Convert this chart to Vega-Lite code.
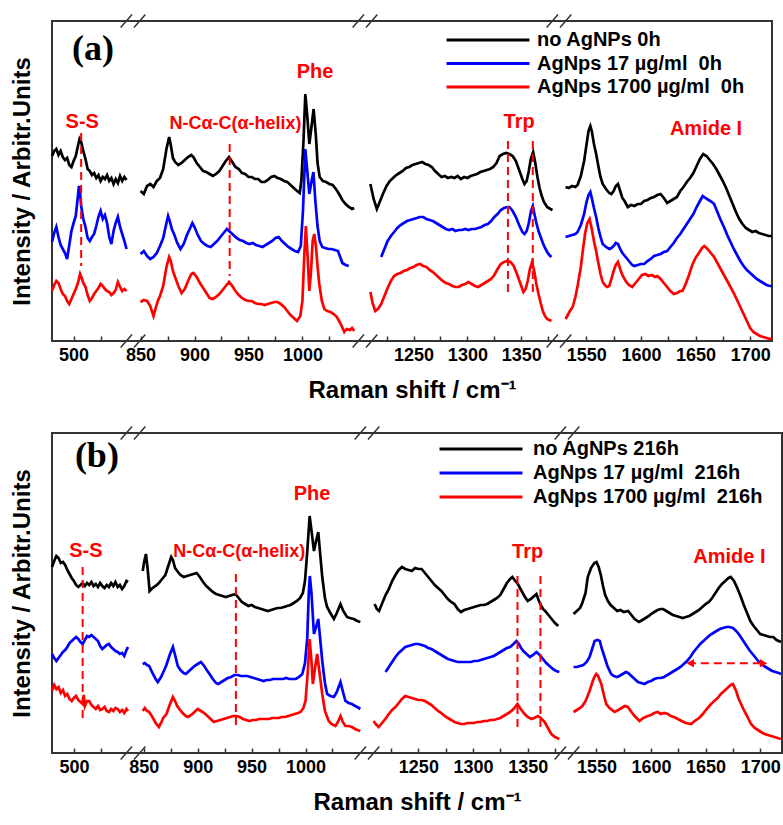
{
"$schema":"https://vega.github.io/schema/vega-lite/v6.json",
"background":"white",
"padding":{"left":9,"top":10,"right":0,"bottom":0},
"bounds":"flush",
"spacing":92,
"config":{"view":{"stroke":"#333333","strokeWidth":2},"font":"Liberation Sans"},
"resolve":{"scale":{"color":"independent","shape":"independent"},"legend":{"color":"independent"}},
"datasets":{
"a":[
{"c":"k","s":1,"x":480,"y":185},{"c":"k","s":1,"x":482,"y":190},{"c":"k","s":1,"x":484,"y":192},{"c":"k","s":1,"x":486,"y":186},{"c":"k","s":1,"x":488,"y":190},{"c":"k","s":1,"x":490,"y":184},{"c":"k","s":1,"x":492,"y":181},{"c":"k","s":1,"x":494,"y":183},{"c":"k","s":1,"x":496,"y":176},{"c":"k","s":1,"x":498,"y":174},{"c":"k","s":1,"x":500,"y":180},{"c":"k","s":1,"x":502,"y":185},{"c":"k","s":1,"x":504,"y":195},{"c":"k","s":1,"x":505.5,"y":202},{"c":"k","s":1,"x":507,"y":199},{"c":"k","s":1,"x":509,"y":190},{"c":"k","s":1,"x":511,"y":182},{"c":"k","s":1,"x":513,"y":172},{"c":"k","s":1,"x":515,"y":170},{"c":"k","s":1,"x":517,"y":166},{"c":"k","s":1,"x":519,"y":168},{"c":"k","s":1,"x":521,"y":163},{"c":"k","s":1,"x":523,"y":166},{"c":"k","s":1,"x":525,"y":160},{"c":"k","s":1,"x":527,"y":164},{"c":"k","s":1,"x":529,"y":162},{"c":"k","s":1,"x":531,"y":166},{"c":"k","s":1,"x":533,"y":160},{"c":"k","s":1,"x":535,"y":163},{"c":"k","s":1,"x":537,"y":157},{"c":"k","s":1,"x":539,"y":162},{"c":"k","s":1,"x":541,"y":158},{"c":"k","s":1,"x":543,"y":165},{"c":"k","s":1,"x":545,"y":160},{"c":"k","s":1,"x":547,"y":164},{"c":"k","s":1,"x":549,"y":161},
{"c":"k","s":2,"x":850,"y":150},{"c":"k","s":2,"x":853,"y":147},{"c":"k","s":2,"x":856,"y":155},{"c":"k","s":2,"x":859,"y":157},{"c":"k","s":2,"x":862,"y":154},{"c":"k","s":2,"x":865,"y":160},{"c":"k","s":2,"x":868,"y":163},{"c":"k","s":2,"x":871,"y":172},{"c":"k","s":2,"x":874,"y":192},{"c":"k","s":2,"x":876.5,"y":204},{"c":"k","s":2,"x":878,"y":196},{"c":"k","s":2,"x":880,"y":183},{"c":"k","s":2,"x":882,"y":179},{"c":"k","s":2,"x":885,"y":176},{"c":"k","s":2,"x":888,"y":178},{"c":"k","s":2,"x":891,"y":181},{"c":"k","s":2,"x":894,"y":184},{"c":"k","s":2,"x":897,"y":186},{"c":"k","s":2,"x":899,"y":184},{"c":"k","s":2,"x":902,"y":178},{"c":"k","s":2,"x":905,"y":174},{"c":"k","s":2,"x":908,"y":170},{"c":"k","s":2,"x":911,"y":169},{"c":"k","s":2,"x":914,"y":167},{"c":"k","s":2,"x":917,"y":165},{"c":"k","s":2,"x":920,"y":167},{"c":"k","s":2,"x":923,"y":170},{"c":"k","s":2,"x":926,"y":175},{"c":"k","s":2,"x":929,"y":180},{"c":"k","s":2,"x":932,"y":184},{"c":"k","s":2,"x":935,"y":179},{"c":"k","s":2,"x":938,"y":174},{"c":"k","s":2,"x":941,"y":172},{"c":"k","s":2,"x":944,"y":168},{"c":"k","s":2,"x":947,"y":167},{"c":"k","s":2,"x":950,"y":164},{"c":"k","s":2,"x":953,"y":164},{"c":"k","s":2,"x":956,"y":162},{"c":"k","s":2,"x":959,"y":162},{"c":"k","s":2,"x":962,"y":159},{"c":"k","s":2,"x":965,"y":159},{"c":"k","s":2,"x":968,"y":161},{"c":"k","s":2,"x":971,"y":164},{"c":"k","s":2,"x":974,"y":165},{"c":"k","s":2,"x":977,"y":163},{"c":"k","s":2,"x":980,"y":162},{"c":"k","s":2,"x":983,"y":160},{"c":"k","s":2,"x":986,"y":159},{"c":"k","s":2,"x":989,"y":156},{"c":"k","s":2,"x":992,"y":153},{"c":"k","s":2,"x":995,"y":150},{"c":"k","s":2,"x":997.5,"y":148},{"c":"k","s":2,"x":999,"y":160},{"c":"k","s":2,"x":1001,"y":200},{"c":"k","s":2,"x":1002.7,"y":247},{"c":"k","s":2,"x":1004.5,"y":225},{"c":"k","s":2,"x":1006.4,"y":197},{"c":"k","s":2,"x":1008.5,"y":215},{"c":"k","s":2,"x":1010.4,"y":232},{"c":"k","s":2,"x":1012.5,"y":205},{"c":"k","s":2,"x":1014,"y":178},{"c":"k","s":2,"x":1016,"y":164},{"c":"k","s":2,"x":1019,"y":160},{"c":"k","s":2,"x":1022,"y":159},{"c":"k","s":2,"x":1025,"y":157},{"c":"k","s":2,"x":1028,"y":156},{"c":"k","s":2,"x":1031,"y":152},{"c":"k","s":2,"x":1034,"y":147},{"c":"k","s":2,"x":1037,"y":141},{"c":"k","s":2,"x":1040,"y":137},{"c":"k","s":2,"x":1043,"y":134},{"c":"k","s":2,"x":1046,"y":132},{"c":"k","s":2,"x":1048,"y":133},
{"c":"k","s":3,"x":1210,"y":157},{"c":"k","s":3,"x":1213,"y":142},{"c":"k","s":3,"x":1216,"y":132},{"c":"k","s":3,"x":1219,"y":140},{"c":"k","s":3,"x":1222,"y":148},{"c":"k","s":3,"x":1225,"y":155},{"c":"k","s":3,"x":1228,"y":160},{"c":"k","s":3,"x":1231,"y":163},{"c":"k","s":3,"x":1234,"y":166},{"c":"k","s":3,"x":1237,"y":168},{"c":"k","s":3,"x":1240,"y":170},{"c":"k","s":3,"x":1243,"y":173},{"c":"k","s":3,"x":1246,"y":174},{"c":"k","s":3,"x":1249,"y":176},{"c":"k","s":3,"x":1252,"y":177},{"c":"k","s":3,"x":1255,"y":178},{"c":"k","s":3,"x":1258,"y":179},{"c":"k","s":3,"x":1261,"y":177},{"c":"k","s":3,"x":1264,"y":176},{"c":"k","s":3,"x":1267,"y":174},{"c":"k","s":3,"x":1270,"y":170},{"c":"k","s":3,"x":1273,"y":167},{"c":"k","s":3,"x":1276,"y":164},{"c":"k","s":3,"x":1279,"y":165},{"c":"k","s":3,"x":1282,"y":163},{"c":"k","s":3,"x":1285,"y":164},{"c":"k","s":3,"x":1288,"y":163},{"c":"k","s":3,"x":1291,"y":165},{"c":"k","s":3,"x":1294,"y":162},{"c":"k","s":3,"x":1297,"y":164},{"c":"k","s":3,"x":1300,"y":163},{"c":"k","s":3,"x":1303,"y":165},{"c":"k","s":3,"x":1306,"y":166},{"c":"k","s":3,"x":1309,"y":167},{"c":"k","s":3,"x":1312,"y":169},{"c":"k","s":3,"x":1315,"y":170},{"c":"k","s":3,"x":1318,"y":171},{"c":"k","s":3,"x":1321,"y":172},{"c":"k","s":3,"x":1324,"y":174},{"c":"k","s":3,"x":1327,"y":178},{"c":"k","s":3,"x":1330,"y":185},{"c":"k","s":3,"x":1333,"y":187},{"c":"k","s":3,"x":1336,"y":188},{"c":"k","s":3,"x":1339,"y":187},{"c":"k","s":3,"x":1342,"y":185},{"c":"k","s":3,"x":1345,"y":180},{"c":"k","s":3,"x":1348,"y":171},{"c":"k","s":3,"x":1351,"y":162},{"c":"k","s":3,"x":1353,"y":157},{"c":"k","s":3,"x":1355,"y":160},{"c":"k","s":3,"x":1357,"y":170},{"c":"k","s":3,"x":1359,"y":183},{"c":"k","s":3,"x":1361,"y":189},{"c":"k","s":3,"x":1363,"y":178},{"c":"k","s":3,"x":1365,"y":164},{"c":"k","s":3,"x":1367,"y":153},{"c":"k","s":3,"x":1369,"y":145},{"c":"k","s":3,"x":1371,"y":139},{"c":"k","s":3,"x":1374,"y":134},{"c":"k","s":3,"x":1377,"y":132},{"c":"k","s":3,"x":1379,"y":131},
{"c":"k","s":4,"x":1531,"y":154},{"c":"k","s":4,"x":1534,"y":153},{"c":"k","s":4,"x":1537,"y":155},{"c":"k","s":4,"x":1540,"y":154},{"c":"k","s":4,"x":1542,"y":156},{"c":"k","s":4,"x":1545,"y":165},{"c":"k","s":4,"x":1548,"y":180},{"c":"k","s":4,"x":1550,"y":195},{"c":"k","s":4,"x":1552,"y":210},{"c":"k","s":4,"x":1553.7,"y":215},{"c":"k","s":4,"x":1555,"y":210},{"c":"k","s":4,"x":1557,"y":197},{"c":"k","s":4,"x":1559,"y":187},{"c":"k","s":4,"x":1561,"y":175},{"c":"k","s":4,"x":1563,"y":164},{"c":"k","s":4,"x":1565,"y":157},{"c":"k","s":4,"x":1568,"y":152},{"c":"k","s":4,"x":1571,"y":148},{"c":"k","s":4,"x":1573,"y":147},{"c":"k","s":4,"x":1575,"y":150},{"c":"k","s":4,"x":1577,"y":155},{"c":"k","s":4,"x":1579,"y":157},{"c":"k","s":4,"x":1581,"y":150},{"c":"k","s":4,"x":1583,"y":143},{"c":"k","s":4,"x":1585,"y":140},{"c":"k","s":4,"x":1588,"y":134},{"c":"k","s":4,"x":1591,"y":136},{"c":"k","s":4,"x":1594,"y":135},{"c":"k","s":4,"x":1597,"y":137},{"c":"k","s":4,"x":1600,"y":137},{"c":"k","s":4,"x":1603,"y":140},{"c":"k","s":4,"x":1606,"y":141},{"c":"k","s":4,"x":1609,"y":143},{"c":"k","s":4,"x":1612,"y":144},{"c":"k","s":4,"x":1615,"y":146},{"c":"k","s":4,"x":1618,"y":147},{"c":"k","s":4,"x":1621,"y":143},{"c":"k","s":4,"x":1624,"y":138},{"c":"k","s":4,"x":1627,"y":140},{"c":"k","s":4,"x":1630,"y":142},{"c":"k","s":4,"x":1633,"y":144},{"c":"k","s":4,"x":1636,"y":150},{"c":"k","s":4,"x":1639,"y":154},{"c":"k","s":4,"x":1642,"y":159},{"c":"k","s":4,"x":1645,"y":163},{"c":"k","s":4,"x":1648,"y":168},{"c":"k","s":4,"x":1651,"y":175},{"c":"k","s":4,"x":1654,"y":182},{"c":"k","s":4,"x":1657,"y":187},{"c":"k","s":4,"x":1660,"y":185},{"c":"k","s":4,"x":1663,"y":181},{"c":"k","s":4,"x":1666,"y":177},{"c":"k","s":4,"x":1669,"y":172},{"c":"k","s":4,"x":1672,"y":166},{"c":"k","s":4,"x":1675,"y":160},{"c":"k","s":4,"x":1678,"y":153},{"c":"k","s":4,"x":1681,"y":145},{"c":"k","s":4,"x":1684,"y":137},{"c":"k","s":4,"x":1687,"y":129},{"c":"k","s":4,"x":1690,"y":122},{"c":"k","s":4,"x":1693,"y":117},{"c":"k","s":4,"x":1696,"y":113},{"c":"k","s":4,"x":1699,"y":111},{"c":"k","s":4,"x":1702,"y":109},{"c":"k","s":4,"x":1705,"y":110},{"c":"k","s":4,"x":1708,"y":108},{"c":"k","s":4,"x":1711,"y":107},{"c":"k","s":4,"x":1714,"y":106},{"c":"k","s":4,"x":1717,"y":105},{"c":"k","s":4,"x":1720,"y":105},
{"c":"b","s":1,"x":480,"y":99},{"c":"b","s":1,"x":482,"y":108},{"c":"b","s":1,"x":484,"y":114},{"c":"b","s":1,"x":486,"y":104},{"c":"b","s":1,"x":488,"y":96},{"c":"b","s":1,"x":490,"y":92},{"c":"b","s":1,"x":492,"y":88},{"c":"b","s":1,"x":494,"y":82},{"c":"b","s":1,"x":496,"y":96},{"c":"b","s":1,"x":498,"y":110},{"c":"b","s":1,"x":500,"y":118},{"c":"b","s":1,"x":502,"y":125},{"c":"b","s":1,"x":504,"y":145},{"c":"b","s":1,"x":505,"y":155},{"c":"b","s":1,"x":506,"y":148},{"c":"b","s":1,"x":507,"y":135},{"c":"b","s":1,"x":509,"y":122},{"c":"b","s":1,"x":511,"y":114},{"c":"b","s":1,"x":513,"y":103},{"c":"b","s":1,"x":515,"y":100},{"c":"b","s":1,"x":517,"y":104},{"c":"b","s":1,"x":519,"y":107},{"c":"b","s":1,"x":521,"y":115},{"c":"b","s":1,"x":523,"y":124},{"c":"b","s":1,"x":525,"y":130},{"c":"b","s":1,"x":527,"y":122},{"c":"b","s":1,"x":529,"y":126},{"c":"b","s":1,"x":531,"y":118},{"c":"b","s":1,"x":533,"y":104},{"c":"b","s":1,"x":535,"y":97},{"c":"b","s":1,"x":537,"y":110},{"c":"b","s":1,"x":539,"y":118},{"c":"b","s":1,"x":541,"y":124},{"c":"b","s":1,"x":543,"y":114},{"c":"b","s":1,"x":545,"y":107},{"c":"b","s":1,"x":547,"y":100},{"c":"b","s":1,"x":549,"y":92},
{"c":"b","s":2,"x":850,"y":87},{"c":"b","s":2,"x":853,"y":90},{"c":"b","s":2,"x":856,"y":85},{"c":"b","s":2,"x":859,"y":82},{"c":"b","s":2,"x":862,"y":84},{"c":"b","s":2,"x":865,"y":88},{"c":"b","s":2,"x":868,"y":95},{"c":"b","s":2,"x":871,"y":103},{"c":"b","s":2,"x":874,"y":118},{"c":"b","s":2,"x":875.5,"y":125},{"c":"b","s":2,"x":877,"y":120},{"c":"b","s":2,"x":879,"y":112},{"c":"b","s":2,"x":881,"y":107},{"c":"b","s":2,"x":884,"y":98},{"c":"b","s":2,"x":887,"y":92},{"c":"b","s":2,"x":890,"y":97},{"c":"b","s":2,"x":893,"y":106},{"c":"b","s":2,"x":896,"y":113},{"c":"b","s":2,"x":898,"y":118},{"c":"b","s":2,"x":900,"y":114},{"c":"b","s":2,"x":903,"y":106},{"c":"b","s":2,"x":906,"y":100},{"c":"b","s":2,"x":909,"y":97},{"c":"b","s":2,"x":912,"y":95},{"c":"b","s":2,"x":915,"y":94},{"c":"b","s":2,"x":918,"y":97},{"c":"b","s":2,"x":921,"y":100},{"c":"b","s":2,"x":924,"y":104},{"c":"b","s":2,"x":927,"y":108},{"c":"b","s":2,"x":930,"y":112},{"c":"b","s":2,"x":933,"y":109},{"c":"b","s":2,"x":936,"y":106},{"c":"b","s":2,"x":939,"y":103},{"c":"b","s":2,"x":942,"y":101},{"c":"b","s":2,"x":945,"y":100},{"c":"b","s":2,"x":948,"y":98},{"c":"b","s":2,"x":951,"y":97},{"c":"b","s":2,"x":954,"y":98},{"c":"b","s":2,"x":957,"y":96},{"c":"b","s":2,"x":960,"y":95},{"c":"b","s":2,"x":963,"y":94},{"c":"b","s":2,"x":966,"y":96},{"c":"b","s":2,"x":969,"y":98},{"c":"b","s":2,"x":972,"y":100},{"c":"b","s":2,"x":975,"y":103},{"c":"b","s":2,"x":978,"y":104},{"c":"b","s":2,"x":981,"y":100},{"c":"b","s":2,"x":984,"y":97},{"c":"b","s":2,"x":987,"y":94},{"c":"b","s":2,"x":990,"y":92},{"c":"b","s":2,"x":993,"y":90},{"c":"b","s":2,"x":996,"y":89},{"c":"b","s":2,"x":998.5,"y":95},{"c":"b","s":2,"x":1000.5,"y":130},{"c":"b","s":2,"x":1002.7,"y":192},{"c":"b","s":2,"x":1004.5,"y":170},{"c":"b","s":2,"x":1006.4,"y":147},{"c":"b","s":2,"x":1008.5,"y":160},{"c":"b","s":2,"x":1010.2,"y":169},{"c":"b","s":2,"x":1012,"y":140},{"c":"b","s":2,"x":1014,"y":115},{"c":"b","s":2,"x":1016,"y":100},{"c":"b","s":2,"x":1018.4,"y":94},{"c":"b","s":2,"x":1021,"y":93},{"c":"b","s":2,"x":1024,"y":92},{"c":"b","s":2,"x":1027,"y":92},{"c":"b","s":2,"x":1030,"y":91},{"c":"b","s":2,"x":1033,"y":90},{"c":"b","s":2,"x":1035,"y":84},{"c":"b","s":2,"x":1037,"y":78},{"c":"b","s":2,"x":1040,"y":76},{"c":"b","s":2,"x":1043,"y":75},
{"c":"b","s":3,"x":1220,"y":84},{"c":"b","s":3,"x":1223,"y":92},{"c":"b","s":3,"x":1226,"y":100},{"c":"b","s":3,"x":1229,"y":105},{"c":"b","s":3,"x":1232,"y":109},{"c":"b","s":3,"x":1235,"y":113},{"c":"b","s":3,"x":1238,"y":116},{"c":"b","s":3,"x":1241,"y":118},{"c":"b","s":3,"x":1244,"y":120},{"c":"b","s":3,"x":1247,"y":121},{"c":"b","s":3,"x":1250,"y":122},{"c":"b","s":3,"x":1253,"y":123},{"c":"b","s":3,"x":1256,"y":124},{"c":"b","s":3,"x":1259,"y":124},{"c":"b","s":3,"x":1262,"y":122},{"c":"b","s":3,"x":1265,"y":121},{"c":"b","s":3,"x":1268,"y":120},{"c":"b","s":3,"x":1271,"y":118},{"c":"b","s":3,"x":1274,"y":116},{"c":"b","s":3,"x":1277,"y":114},{"c":"b","s":3,"x":1280,"y":112},{"c":"b","s":3,"x":1283,"y":111},{"c":"b","s":3,"x":1286,"y":112},{"c":"b","s":3,"x":1289,"y":110},{"c":"b","s":3,"x":1292,"y":111},{"c":"b","s":3,"x":1295,"y":111},{"c":"b","s":3,"x":1298,"y":112},{"c":"b","s":3,"x":1301,"y":111},{"c":"b","s":3,"x":1304,"y":112},{"c":"b","s":3,"x":1307,"y":112},{"c":"b","s":3,"x":1310,"y":113},{"c":"b","s":3,"x":1313,"y":114},{"c":"b","s":3,"x":1316,"y":116},{"c":"b","s":3,"x":1319,"y":117},{"c":"b","s":3,"x":1322,"y":120},{"c":"b","s":3,"x":1325,"y":124},{"c":"b","s":3,"x":1328,"y":127},{"c":"b","s":3,"x":1331,"y":131},{"c":"b","s":3,"x":1334,"y":133},{"c":"b","s":3,"x":1337,"y":134},{"c":"b","s":3,"x":1339,"y":134},{"c":"b","s":3,"x":1342,"y":130},{"c":"b","s":3,"x":1345,"y":124},{"c":"b","s":3,"x":1348,"y":116},{"c":"b","s":3,"x":1351,"y":109},{"c":"b","s":3,"x":1353,"y":107},{"c":"b","s":3,"x":1355,"y":110},{"c":"b","s":3,"x":1357,"y":118},{"c":"b","s":3,"x":1359,"y":130},{"c":"b","s":3,"x":1360.7,"y":135},{"c":"b","s":3,"x":1362,"y":128},{"c":"b","s":3,"x":1364,"y":118},{"c":"b","s":3,"x":1366,"y":110},{"c":"b","s":3,"x":1368,"y":104},{"c":"b","s":3,"x":1370,"y":98},{"c":"b","s":3,"x":1372,"y":93},{"c":"b","s":3,"x":1374,"y":89},{"c":"b","s":3,"x":1376,"y":86},{"c":"b","s":3,"x":1378,"y":84},
{"c":"b","s":4,"x":1531,"y":104},{"c":"b","s":4,"x":1534,"y":105},{"c":"b","s":4,"x":1537,"y":106},{"c":"b","s":4,"x":1540,"y":107},{"c":"b","s":4,"x":1542,"y":109},{"c":"b","s":4,"x":1545,"y":116},{"c":"b","s":4,"x":1548,"y":127},{"c":"b","s":4,"x":1550,"y":138},{"c":"b","s":4,"x":1552,"y":146},{"c":"b","s":4,"x":1553.7,"y":149},{"c":"b","s":4,"x":1555,"y":143},{"c":"b","s":4,"x":1557,"y":133},{"c":"b","s":4,"x":1559,"y":124},{"c":"b","s":4,"x":1561,"y":113},{"c":"b","s":4,"x":1563,"y":104},{"c":"b","s":4,"x":1565,"y":97},{"c":"b","s":4,"x":1568,"y":94},{"c":"b","s":4,"x":1571,"y":92},{"c":"b","s":4,"x":1573,"y":93},{"c":"b","s":4,"x":1575,"y":95},{"c":"b","s":4,"x":1577,"y":98},{"c":"b","s":4,"x":1579,"y":97},{"c":"b","s":4,"x":1581,"y":92},{"c":"b","s":4,"x":1583,"y":88},{"c":"b","s":4,"x":1586,"y":84},{"c":"b","s":4,"x":1589,"y":80},{"c":"b","s":4,"x":1592,"y":76},{"c":"b","s":4,"x":1594,"y":75},{"c":"b","s":4,"x":1597,"y":76},{"c":"b","s":4,"x":1600,"y":77},{"c":"b","s":4,"x":1603,"y":77},{"c":"b","s":4,"x":1606,"y":80},{"c":"b","s":4,"x":1609,"y":82},{"c":"b","s":4,"x":1612,"y":85},{"c":"b","s":4,"x":1615,"y":86},{"c":"b","s":4,"x":1618,"y":87},{"c":"b","s":4,"x":1621,"y":89},{"c":"b","s":4,"x":1624,"y":90},{"c":"b","s":4,"x":1627,"y":94},{"c":"b","s":4,"x":1630,"y":98},{"c":"b","s":4,"x":1633,"y":103},{"c":"b","s":4,"x":1636,"y":107},{"c":"b","s":4,"x":1639,"y":112},{"c":"b","s":4,"x":1642,"y":117},{"c":"b","s":4,"x":1645,"y":122},{"c":"b","s":4,"x":1648,"y":127},{"c":"b","s":4,"x":1651,"y":134},{"c":"b","s":4,"x":1654,"y":140},{"c":"b","s":4,"x":1656.6,"y":145},{"c":"b","s":4,"x":1659,"y":143},{"c":"b","s":4,"x":1662,"y":141},{"c":"b","s":4,"x":1665,"y":139},{"c":"b","s":4,"x":1667,"y":137},{"c":"b","s":4,"x":1670,"y":129},{"c":"b","s":4,"x":1673,"y":121},{"c":"b","s":4,"x":1676,"y":114},{"c":"b","s":4,"x":1679,"y":106},{"c":"b","s":4,"x":1682,"y":99},{"c":"b","s":4,"x":1685,"y":92},{"c":"b","s":4,"x":1688,"y":86},{"c":"b","s":4,"x":1691,"y":80},{"c":"b","s":4,"x":1694,"y":75},{"c":"b","s":4,"x":1697,"y":71},{"c":"b","s":4,"x":1700,"y":68},{"c":"b","s":4,"x":1703,"y":65},{"c":"b","s":4,"x":1706,"y":62},{"c":"b","s":4,"x":1709,"y":60},{"c":"b","s":4,"x":1712,"y":58},{"c":"b","s":4,"x":1715,"y":56},{"c":"b","s":4,"x":1718,"y":55},{"c":"b","s":4,"x":1720,"y":55},
{"c":"r","s":1,"x":480,"y":50},{"c":"r","s":1,"x":482,"y":56},{"c":"r","s":1,"x":484,"y":60},{"c":"r","s":1,"x":486,"y":58},{"c":"r","s":1,"x":488,"y":52},{"c":"r","s":1,"x":490,"y":47},{"c":"r","s":1,"x":492,"y":45},{"c":"r","s":1,"x":494,"y":40},{"c":"r","s":1,"x":496,"y":37},{"c":"r","s":1,"x":498,"y":42},{"c":"r","s":1,"x":500,"y":47},{"c":"r","s":1,"x":502,"y":52},{"c":"r","s":1,"x":504,"y":58},{"c":"r","s":1,"x":506,"y":67},{"c":"r","s":1,"x":507.5,"y":63},{"c":"r","s":1,"x":509,"y":58},{"c":"r","s":1,"x":511,"y":54},{"c":"r","s":1,"x":513,"y":46},{"c":"r","s":1,"x":515,"y":40},{"c":"r","s":1,"x":517,"y":43},{"c":"r","s":1,"x":519,"y":47},{"c":"r","s":1,"x":521,"y":50},{"c":"r","s":1,"x":523,"y":53},{"c":"r","s":1,"x":525,"y":57},{"c":"r","s":1,"x":527,"y":55},{"c":"r","s":1,"x":529,"y":52},{"c":"r","s":1,"x":531,"y":50},{"c":"r","s":1,"x":533,"y":49},{"c":"r","s":1,"x":535,"y":46},{"c":"r","s":1,"x":537,"y":48},{"c":"r","s":1,"x":539,"y":51},{"c":"r","s":1,"x":541,"y":59},{"c":"r","s":1,"x":543,"y":54},{"c":"r","s":1,"x":545,"y":50},{"c":"r","s":1,"x":547,"y":52},{"c":"r","s":1,"x":549,"y":50},
{"c":"r","s":2,"x":850,"y":39},{"c":"r","s":2,"x":853,"y":41},{"c":"r","s":2,"x":856,"y":40},{"c":"r","s":2,"x":859,"y":35},{"c":"r","s":2,"x":862,"y":25},{"c":"r","s":2,"x":864,"y":33},{"c":"r","s":2,"x":866,"y":40},{"c":"r","s":2,"x":868,"y":45},{"c":"r","s":2,"x":871,"y":55},{"c":"r","s":2,"x":874,"y":74},{"c":"r","s":2,"x":876.5,"y":84},{"c":"r","s":2,"x":878,"y":80},{"c":"r","s":2,"x":880,"y":70},{"c":"r","s":2,"x":882,"y":64},{"c":"r","s":2,"x":885,"y":55},{"c":"r","s":2,"x":888,"y":48},{"c":"r","s":2,"x":891,"y":52},{"c":"r","s":2,"x":894,"y":60},{"c":"r","s":2,"x":897,"y":67},{"c":"r","s":2,"x":899,"y":68},{"c":"r","s":2,"x":902,"y":64},{"c":"r","s":2,"x":905,"y":58},{"c":"r","s":2,"x":908,"y":53},{"c":"r","s":2,"x":911,"y":48},{"c":"r","s":2,"x":914,"y":43},{"c":"r","s":2,"x":917,"y":42},{"c":"r","s":2,"x":920,"y":44},{"c":"r","s":2,"x":923,"y":47},{"c":"r","s":2,"x":926,"y":51},{"c":"r","s":2,"x":929,"y":55},{"c":"r","s":2,"x":932,"y":59},{"c":"r","s":2,"x":935,"y":55},{"c":"r","s":2,"x":938,"y":50},{"c":"r","s":2,"x":941,"y":46},{"c":"r","s":2,"x":944,"y":43},{"c":"r","s":2,"x":947,"y":41},{"c":"r","s":2,"x":950,"y":40},{"c":"r","s":2,"x":953,"y":40},{"c":"r","s":2,"x":956,"y":38},{"c":"r","s":2,"x":959,"y":37},{"c":"r","s":2,"x":962,"y":37},{"c":"r","s":2,"x":965,"y":36},{"c":"r","s":2,"x":968,"y":37},{"c":"r","s":2,"x":971,"y":38},{"c":"r","s":2,"x":974,"y":39},{"c":"r","s":2,"x":977,"y":39},{"c":"r","s":2,"x":980,"y":37},{"c":"r","s":2,"x":983,"y":34},{"c":"r","s":2,"x":986,"y":30},{"c":"r","s":2,"x":989,"y":26},{"c":"r","s":2,"x":992,"y":23},{"c":"r","s":2,"x":995,"y":20},{"c":"r","s":2,"x":998,"y":25},{"c":"r","s":2,"x":1000,"y":40},{"c":"r","s":2,"x":1001.7,"y":85},{"c":"r","s":2,"x":1003.2,"y":115},{"c":"r","s":2,"x":1004.8,"y":85},{"c":"r","s":2,"x":1006.4,"y":50},{"c":"r","s":2,"x":1008,"y":70},{"c":"r","s":2,"x":1009.5,"y":100},{"c":"r","s":2,"x":1011,"y":107},{"c":"r","s":2,"x":1012.5,"y":95},{"c":"r","s":2,"x":1014,"y":75},{"c":"r","s":2,"x":1015.6,"y":57},{"c":"r","s":2,"x":1018,"y":40},{"c":"r","s":2,"x":1020.3,"y":32},{"c":"r","s":2,"x":1023,"y":30},{"c":"r","s":2,"x":1026,"y":29},{"c":"r","s":2,"x":1029,"y":27},{"c":"r","s":2,"x":1032,"y":24},{"c":"r","s":2,"x":1034,"y":20},{"c":"r","s":2,"x":1036,"y":16},{"c":"r","s":2,"x":1038.8,"y":9},{"c":"r","s":2,"x":1041,"y":12},{"c":"r","s":2,"x":1044,"y":11},{"c":"r","s":2,"x":1046,"y":13},{"c":"r","s":2,"x":1048,"y":10},
{"c":"r","s":3,"x":1210,"y":49},{"c":"r","s":3,"x":1212,"y":38},{"c":"r","s":3,"x":1214.5,"y":30},{"c":"r","s":3,"x":1217,"y":32},{"c":"r","s":3,"x":1220,"y":37},{"c":"r","s":3,"x":1223,"y":45},{"c":"r","s":3,"x":1226,"y":53},{"c":"r","s":3,"x":1229,"y":60},{"c":"r","s":3,"x":1232,"y":65},{"c":"r","s":3,"x":1235,"y":67},{"c":"r","s":3,"x":1238,"y":68},{"c":"r","s":3,"x":1241,"y":70},{"c":"r","s":3,"x":1244,"y":71},{"c":"r","s":3,"x":1247,"y":73},{"c":"r","s":3,"x":1250,"y":74},{"c":"r","s":3,"x":1253,"y":76},{"c":"r","s":3,"x":1256,"y":77},{"c":"r","s":3,"x":1259,"y":75},{"c":"r","s":3,"x":1262,"y":74},{"c":"r","s":3,"x":1265,"y":71},{"c":"r","s":3,"x":1268,"y":69},{"c":"r","s":3,"x":1271,"y":66},{"c":"r","s":3,"x":1274,"y":63},{"c":"r","s":3,"x":1277,"y":60},{"c":"r","s":3,"x":1280,"y":58},{"c":"r","s":3,"x":1283,"y":57},{"c":"r","s":3,"x":1286,"y":55},{"c":"r","s":3,"x":1289,"y":54},{"c":"r","s":3,"x":1292,"y":54},{"c":"r","s":3,"x":1295,"y":56},{"c":"r","s":3,"x":1298,"y":57},{"c":"r","s":3,"x":1301,"y":59},{"c":"r","s":3,"x":1304,"y":57},{"c":"r","s":3,"x":1307,"y":55},{"c":"r","s":3,"x":1310,"y":54},{"c":"r","s":3,"x":1313,"y":56},{"c":"r","s":3,"x":1316,"y":58},{"c":"r","s":3,"x":1319,"y":60},{"c":"r","s":3,"x":1322,"y":62},{"c":"r","s":3,"x":1325,"y":66},{"c":"r","s":3,"x":1328,"y":72},{"c":"r","s":3,"x":1331,"y":77},{"c":"r","s":3,"x":1334,"y":79},{"c":"r","s":3,"x":1337,"y":80},{"c":"r","s":3,"x":1340,"y":79},{"c":"r","s":3,"x":1343,"y":75},{"c":"r","s":3,"x":1346,"y":67},{"c":"r","s":3,"x":1349,"y":58},{"c":"r","s":3,"x":1352,"y":49},{"c":"r","s":3,"x":1354,"y":52},{"c":"r","s":3,"x":1356,"y":60},{"c":"r","s":3,"x":1358,"y":72},{"c":"r","s":3,"x":1360,"y":79},{"c":"r","s":3,"x":1362,"y":70},{"c":"r","s":3,"x":1364,"y":57},{"c":"r","s":3,"x":1366,"y":47},{"c":"r","s":3,"x":1368,"y":38},{"c":"r","s":3,"x":1370,"y":30},{"c":"r","s":3,"x":1372,"y":25},{"c":"r","s":3,"x":1374,"y":22},{"c":"r","s":3,"x":1376,"y":21},{"c":"r","s":3,"x":1378,"y":20},
{"c":"r","s":4,"x":1531,"y":22},{"c":"r","s":4,"x":1533,"y":26},{"c":"r","s":4,"x":1535,"y":30},{"c":"r","s":4,"x":1537.5,"y":34},{"c":"r","s":4,"x":1540,"y":44},{"c":"r","s":4,"x":1542,"y":55},{"c":"r","s":4,"x":1545,"y":74},{"c":"r","s":4,"x":1547,"y":92},{"c":"r","s":4,"x":1549,"y":108},{"c":"r","s":4,"x":1551,"y":118},{"c":"r","s":4,"x":1553,"y":122},{"c":"r","s":4,"x":1555,"y":112},{"c":"r","s":4,"x":1557,"y":100},{"c":"r","s":4,"x":1559,"y":90},{"c":"r","s":4,"x":1561,"y":78},{"c":"r","s":4,"x":1563,"y":67},{"c":"r","s":4,"x":1565,"y":59},{"c":"r","s":4,"x":1567,"y":56},{"c":"r","s":4,"x":1569,"y":54},{"c":"r","s":4,"x":1571,"y":55},{"c":"r","s":4,"x":1573,"y":62},{"c":"r","s":4,"x":1575,"y":70},{"c":"r","s":4,"x":1577,"y":76},{"c":"r","s":4,"x":1579,"y":79},{"c":"r","s":4,"x":1581,"y":72},{"c":"r","s":4,"x":1583,"y":66},{"c":"r","s":4,"x":1586,"y":60},{"c":"r","s":4,"x":1589,"y":56},{"c":"r","s":4,"x":1592,"y":54},{"c":"r","s":4,"x":1595,"y":58},{"c":"r","s":4,"x":1598,"y":62},{"c":"r","s":4,"x":1601,"y":66},{"c":"r","s":4,"x":1604,"y":67},{"c":"r","s":4,"x":1607,"y":65},{"c":"r","s":4,"x":1610,"y":66},{"c":"r","s":4,"x":1613,"y":64},{"c":"r","s":4,"x":1615,"y":65},{"c":"r","s":4,"x":1618,"y":62},{"c":"r","s":4,"x":1621,"y":58},{"c":"r","s":4,"x":1624,"y":54},{"c":"r","s":4,"x":1627,"y":50},{"c":"r","s":4,"x":1630,"y":47},{"c":"r","s":4,"x":1633,"y":48},{"c":"r","s":4,"x":1636,"y":50},{"c":"r","s":4,"x":1638,"y":50},{"c":"r","s":4,"x":1641,"y":57},{"c":"r","s":4,"x":1644,"y":66},{"c":"r","s":4,"x":1647,"y":76},{"c":"r","s":4,"x":1650,"y":83},{"c":"r","s":4,"x":1653,"y":88},{"c":"r","s":4,"x":1656,"y":93},{"c":"r","s":4,"x":1658,"y":95},{"c":"r","s":4,"x":1661,"y":92},{"c":"r","s":4,"x":1664,"y":88},{"c":"r","s":4,"x":1667,"y":84},{"c":"r","s":4,"x":1670,"y":78},{"c":"r","s":4,"x":1673,"y":72},{"c":"r","s":4,"x":1676,"y":66},{"c":"r","s":4,"x":1679,"y":60},{"c":"r","s":4,"x":1682,"y":54},{"c":"r","s":4,"x":1685,"y":48},{"c":"r","s":4,"x":1688,"y":41},{"c":"r","s":4,"x":1691,"y":34},{"c":"r","s":4,"x":1694,"y":27},{"c":"r","s":4,"x":1697,"y":20},{"c":"r","s":4,"x":1700,"y":13},{"c":"r","s":4,"x":1703,"y":9},{"c":"r","s":4,"x":1706,"y":7},{"c":"r","s":4,"x":1709,"y":5},{"c":"r","s":4,"x":1712,"y":4},{"c":"r","s":4,"x":1715,"y":3},{"c":"r","s":4,"x":1718,"y":2},{"c":"r","s":4,"x":1720,"y":3}
],
"b":[
{"c":"k","s":1,"x":480,"y":186},{"c":"k","s":1,"x":482,"y":192},{"c":"k","s":1,"x":484,"y":197},{"c":"k","s":1,"x":486,"y":195},{"c":"k","s":1,"x":488,"y":190},{"c":"k","s":1,"x":490,"y":191},{"c":"k","s":1,"x":492,"y":188},{"c":"k","s":1,"x":494,"y":183},{"c":"k","s":1,"x":496,"y":179},{"c":"k","s":1,"x":498,"y":175},{"c":"k","s":1,"x":500,"y":172},{"c":"k","s":1,"x":502,"y":168},{"c":"k","s":1,"x":504,"y":166},{"c":"k","s":1,"x":506,"y":168},{"c":"k","s":1,"x":508,"y":170},{"c":"k","s":1,"x":510,"y":167},{"c":"k","s":1,"x":512,"y":170},{"c":"k","s":1,"x":514,"y":168},{"c":"k","s":1,"x":516,"y":171},{"c":"k","s":1,"x":518,"y":167},{"c":"k","s":1,"x":520,"y":169},{"c":"k","s":1,"x":522,"y":166},{"c":"k","s":1,"x":524,"y":170},{"c":"k","s":1,"x":526,"y":167},{"c":"k","s":1,"x":528,"y":165},{"c":"k","s":1,"x":530,"y":168},{"c":"k","s":1,"x":532,"y":166},{"c":"k","s":1,"x":534,"y":170},{"c":"k","s":1,"x":536,"y":167},{"c":"k","s":1,"x":538,"y":171},{"c":"k","s":1,"x":540,"y":166},{"c":"k","s":1,"x":542,"y":168},{"c":"k","s":1,"x":544,"y":164},{"c":"k","s":1,"x":546,"y":167},{"c":"k","s":1,"x":548,"y":172},{"c":"k","s":1,"x":549.5,"y":171},
{"c":"k","s":2,"x":849,"y":182},{"c":"k","s":2,"x":850.5,"y":192},{"c":"k","s":2,"x":852,"y":199},{"c":"k","s":2,"x":853.5,"y":185},{"c":"k","s":2,"x":855.4,"y":162},{"c":"k","s":2,"x":858,"y":165},{"c":"k","s":2,"x":861,"y":167},{"c":"k","s":2,"x":864,"y":170},{"c":"k","s":2,"x":867,"y":174},{"c":"k","s":2,"x":870,"y":178},{"c":"k","s":2,"x":873,"y":188},{"c":"k","s":2,"x":875.4,"y":196},{"c":"k","s":2,"x":877,"y":193},{"c":"k","s":2,"x":879,"y":185},{"c":"k","s":2,"x":881,"y":182},{"c":"k","s":2,"x":884,"y":178},{"c":"k","s":2,"x":887,"y":176},{"c":"k","s":2,"x":890,"y":177},{"c":"k","s":2,"x":893,"y":178},{"c":"k","s":2,"x":896,"y":179},{"c":"k","s":2,"x":899,"y":180},{"c":"k","s":2,"x":902,"y":176},{"c":"k","s":2,"x":905,"y":171},{"c":"k","s":2,"x":908,"y":167},{"c":"k","s":2,"x":911,"y":164},{"c":"k","s":2,"x":914,"y":161},{"c":"k","s":2,"x":917,"y":159},{"c":"k","s":2,"x":920,"y":158},{"c":"k","s":2,"x":923,"y":157},{"c":"k","s":2,"x":926,"y":156},{"c":"k","s":2,"x":929,"y":157},{"c":"k","s":2,"x":932,"y":158},{"c":"k","s":2,"x":935,"y":159},{"c":"k","s":2,"x":938,"y":155},{"c":"k","s":2,"x":941,"y":151},{"c":"k","s":2,"x":944,"y":149},{"c":"k","s":2,"x":947,"y":147},{"c":"k","s":2,"x":950,"y":148},{"c":"k","s":2,"x":953,"y":146},{"c":"k","s":2,"x":956,"y":145},{"c":"k","s":2,"x":959,"y":144},{"c":"k","s":2,"x":962,"y":143},{"c":"k","s":2,"x":965,"y":142},{"c":"k","s":2,"x":968,"y":143},{"c":"k","s":2,"x":971,"y":144},{"c":"k","s":2,"x":974,"y":145},{"c":"k","s":2,"x":977,"y":145},{"c":"k","s":2,"x":980,"y":146},{"c":"k","s":2,"x":983,"y":147},{"c":"k","s":2,"x":986,"y":148},{"c":"k","s":2,"x":989,"y":150},{"c":"k","s":2,"x":992,"y":152},{"c":"k","s":2,"x":995,"y":155},{"c":"k","s":2,"x":997.5,"y":160},{"c":"k","s":2,"x":999.5,"y":172},{"c":"k","s":2,"x":1001.5,"y":200},{"c":"k","s":2,"x":1003.8,"y":237},{"c":"k","s":2,"x":1005.8,"y":220},{"c":"k","s":2,"x":1007.8,"y":202},{"c":"k","s":2,"x":1009.8,"y":212},{"c":"k","s":2,"x":1011.8,"y":221},{"c":"k","s":2,"x":1013.5,"y":200},{"c":"k","s":2,"x":1015.5,"y":176},{"c":"k","s":2,"x":1018,"y":155},{"c":"k","s":2,"x":1020,"y":146},{"c":"k","s":2,"x":1023,"y":140},{"c":"k","s":2,"x":1026.3,"y":134},{"c":"k","s":2,"x":1029,"y":140},{"c":"k","s":2,"x":1032.4,"y":149},{"c":"k","s":2,"x":1035,"y":142},{"c":"k","s":2,"x":1038.5,"y":136},{"c":"k","s":2,"x":1041,"y":135},{"c":"k","s":2,"x":1044.7,"y":134},{"c":"k","s":2,"x":1048,"y":132},{"c":"k","s":2,"x":1050.8,"y":131},
{"c":"k","s":3,"x":1210,"y":149},{"c":"k","s":3,"x":1212,"y":144},{"c":"k","s":3,"x":1214,"y":142},{"c":"k","s":3,"x":1217,"y":150},{"c":"k","s":3,"x":1220,"y":158},{"c":"k","s":3,"x":1223,"y":164},{"c":"k","s":3,"x":1226,"y":172},{"c":"k","s":3,"x":1229,"y":178},{"c":"k","s":3,"x":1232,"y":183},{"c":"k","s":3,"x":1235,"y":186},{"c":"k","s":3,"x":1238,"y":184},{"c":"k","s":3,"x":1241,"y":183},{"c":"k","s":3,"x":1244,"y":182},{"c":"k","s":3,"x":1247,"y":185},{"c":"k","s":3,"x":1250,"y":184},{"c":"k","s":3,"x":1253,"y":184},{"c":"k","s":3,"x":1256,"y":180},{"c":"k","s":3,"x":1259,"y":176},{"c":"k","s":3,"x":1262,"y":172},{"c":"k","s":3,"x":1265,"y":168},{"c":"k","s":3,"x":1268,"y":165},{"c":"k","s":3,"x":1271,"y":162},{"c":"k","s":3,"x":1274,"y":158},{"c":"k","s":3,"x":1277,"y":154},{"c":"k","s":3,"x":1280,"y":151},{"c":"k","s":3,"x":1283,"y":149},{"c":"k","s":3,"x":1286,"y":144},{"c":"k","s":3,"x":1289,"y":141},{"c":"k","s":3,"x":1292,"y":143},{"c":"k","s":3,"x":1295,"y":144},{"c":"k","s":3,"x":1298,"y":145},{"c":"k","s":3,"x":1301,"y":146},{"c":"k","s":3,"x":1304,"y":147},{"c":"k","s":3,"x":1307,"y":148},{"c":"k","s":3,"x":1310,"y":148},{"c":"k","s":3,"x":1313,"y":149},{"c":"k","s":3,"x":1316,"y":151},{"c":"k","s":3,"x":1319,"y":153},{"c":"k","s":3,"x":1322,"y":155},{"c":"k","s":3,"x":1325,"y":158},{"c":"k","s":3,"x":1328,"y":164},{"c":"k","s":3,"x":1331,"y":170},{"c":"k","s":3,"x":1334,"y":174},{"c":"k","s":3,"x":1336,"y":176},{"c":"k","s":3,"x":1338,"y":173},{"c":"k","s":3,"x":1341,"y":169},{"c":"k","s":3,"x":1344,"y":163},{"c":"k","s":3,"x":1347,"y":157},{"c":"k","s":3,"x":1350,"y":152},{"c":"k","s":3,"x":1353,"y":154},{"c":"k","s":3,"x":1356,"y":157},{"c":"k","s":3,"x":1358,"y":159},{"c":"k","s":3,"x":1360,"y":153},{"c":"k","s":3,"x":1362,"y":148},{"c":"k","s":3,"x":1364,"y":144},{"c":"k","s":3,"x":1366,"y":142},{"c":"k","s":3,"x":1369,"y":138},{"c":"k","s":3,"x":1372,"y":134},{"c":"k","s":3,"x":1375,"y":130},{"c":"k","s":3,"x":1378,"y":127},
{"c":"k","s":4,"x":1529,"y":139},{"c":"k","s":4,"x":1532,"y":142},{"c":"k","s":4,"x":1535,"y":145},{"c":"k","s":4,"x":1537,"y":150},{"c":"k","s":4,"x":1540,"y":160},{"c":"k","s":4,"x":1542,"y":176},{"c":"k","s":4,"x":1545,"y":185},{"c":"k","s":4,"x":1548,"y":190},{"c":"k","s":4,"x":1550,"y":191},{"c":"k","s":4,"x":1552,"y":186},{"c":"k","s":4,"x":1554,"y":178},{"c":"k","s":4,"x":1556,"y":167},{"c":"k","s":4,"x":1558,"y":158},{"c":"k","s":4,"x":1560.5,"y":152},{"c":"k","s":4,"x":1563,"y":148},{"c":"k","s":4,"x":1566,"y":145},{"c":"k","s":4,"x":1569,"y":142},{"c":"k","s":4,"x":1572,"y":143},{"c":"k","s":4,"x":1575,"y":141},{"c":"k","s":4,"x":1579,"y":142},{"c":"k","s":4,"x":1582,"y":138},{"c":"k","s":4,"x":1585,"y":134},{"c":"k","s":4,"x":1589,"y":131},{"c":"k","s":4,"x":1592,"y":133},{"c":"k","s":4,"x":1595,"y":135},{"c":"k","s":4,"x":1598,"y":137},{"c":"k","s":4,"x":1600,"y":139},{"c":"k","s":4,"x":1603,"y":141},{"c":"k","s":4,"x":1606,"y":143},{"c":"k","s":4,"x":1609,"y":144},{"c":"k","s":4,"x":1611,"y":144},{"c":"k","s":4,"x":1614,"y":142},{"c":"k","s":4,"x":1617,"y":140},{"c":"k","s":4,"x":1620,"y":138},{"c":"k","s":4,"x":1623,"y":137},{"c":"k","s":4,"x":1626,"y":136},{"c":"k","s":4,"x":1629,"y":135},{"c":"k","s":4,"x":1632,"y":136},{"c":"k","s":4,"x":1635,"y":137},{"c":"k","s":4,"x":1638,"y":139},{"c":"k","s":4,"x":1641,"y":141},{"c":"k","s":4,"x":1644,"y":143},{"c":"k","s":4,"x":1647,"y":146},{"c":"k","s":4,"x":1650,"y":149},{"c":"k","s":4,"x":1653,"y":151},{"c":"k","s":4,"x":1656,"y":155},{"c":"k","s":4,"x":1659,"y":160},{"c":"k","s":4,"x":1662,"y":165},{"c":"k","s":4,"x":1665,"y":169},{"c":"k","s":4,"x":1668,"y":172},{"c":"k","s":4,"x":1671,"y":175},{"c":"k","s":4,"x":1673,"y":176},{"c":"k","s":4,"x":1676,"y":172},{"c":"k","s":4,"x":1679,"y":165},{"c":"k","s":4,"x":1682,"y":157},{"c":"k","s":4,"x":1685,"y":148},{"c":"k","s":4,"x":1688,"y":140},{"c":"k","s":4,"x":1691,"y":132},{"c":"k","s":4,"x":1694,"y":127},{"c":"k","s":4,"x":1697,"y":123},{"c":"k","s":4,"x":1700,"y":119},{"c":"k","s":4,"x":1703,"y":118},{"c":"k","s":4,"x":1706,"y":117},{"c":"k","s":4,"x":1709,"y":116},{"c":"k","s":4,"x":1712,"y":116},{"c":"k","s":4,"x":1715,"y":113},{"c":"k","s":4,"x":1717,"y":112},{"c":"k","s":4,"x":1719,"y":111},
{"c":"b","s":1,"x":480,"y":99},{"c":"b","s":1,"x":482,"y":95},{"c":"b","s":1,"x":484,"y":92},{"c":"b","s":1,"x":486,"y":95},{"c":"b","s":1,"x":488,"y":98},{"c":"b","s":1,"x":490,"y":101},{"c":"b","s":1,"x":492,"y":103},{"c":"b","s":1,"x":494,"y":106},{"c":"b","s":1,"x":496,"y":110},{"c":"b","s":1,"x":498,"y":112},{"c":"b","s":1,"x":500,"y":114},{"c":"b","s":1,"x":502,"y":116},{"c":"b","s":1,"x":504,"y":114},{"c":"b","s":1,"x":506,"y":111},{"c":"b","s":1,"x":508,"y":109},{"c":"b","s":1,"x":510,"y":113},{"c":"b","s":1,"x":512,"y":117},{"c":"b","s":1,"x":514,"y":116},{"c":"b","s":1,"x":516,"y":118},{"c":"b","s":1,"x":518,"y":116},{"c":"b","s":1,"x":520,"y":114},{"c":"b","s":1,"x":522,"y":112},{"c":"b","s":1,"x":524,"y":107},{"c":"b","s":1,"x":526,"y":104},{"c":"b","s":1,"x":528,"y":106},{"c":"b","s":1,"x":530,"y":108},{"c":"b","s":1,"x":532,"y":109},{"c":"b","s":1,"x":534,"y":106},{"c":"b","s":1,"x":536,"y":104},{"c":"b","s":1,"x":538,"y":102},{"c":"b","s":1,"x":540,"y":101},{"c":"b","s":1,"x":542,"y":99},{"c":"b","s":1,"x":544,"y":100},{"c":"b","s":1,"x":546,"y":97},{"c":"b","s":1,"x":548,"y":103},{"c":"b","s":1,"x":549.5,"y":106},
{"c":"b","s":2,"x":849,"y":89},{"c":"b","s":2,"x":851,"y":90},{"c":"b","s":2,"x":853,"y":88},{"c":"b","s":2,"x":855,"y":87},{"c":"b","s":2,"x":858,"y":80},{"c":"b","s":2,"x":861,"y":74},{"c":"b","s":2,"x":863,"y":71},{"c":"b","s":2,"x":866,"y":76},{"c":"b","s":2,"x":869,"y":83},{"c":"b","s":2,"x":871,"y":88},{"c":"b","s":2,"x":874,"y":98},{"c":"b","s":2,"x":877,"y":106},{"c":"b","s":2,"x":879,"y":98},{"c":"b","s":2,"x":881.5,"y":87},{"c":"b","s":2,"x":884,"y":83},{"c":"b","s":2,"x":887,"y":80},{"c":"b","s":2,"x":889,"y":79},{"c":"b","s":2,"x":892,"y":82},{"c":"b","s":2,"x":895,"y":85},{"c":"b","s":2,"x":897,"y":87},{"c":"b","s":2,"x":900,"y":89},{"c":"b","s":2,"x":903,"y":91},{"c":"b","s":2,"x":906,"y":87},{"c":"b","s":2,"x":909,"y":82},{"c":"b","s":2,"x":911,"y":79},{"c":"b","s":2,"x":914,"y":74},{"c":"b","s":2,"x":917,"y":70},{"c":"b","s":2,"x":919,"y":69},{"c":"b","s":2,"x":922,"y":71},{"c":"b","s":2,"x":925,"y":73},{"c":"b","s":2,"x":928,"y":75},{"c":"b","s":2,"x":931,"y":76},{"c":"b","s":2,"x":934,"y":78},{"c":"b","s":2,"x":937,"y":78},{"c":"b","s":2,"x":940,"y":77},{"c":"b","s":2,"x":943,"y":77},{"c":"b","s":2,"x":946,"y":77},{"c":"b","s":2,"x":949,"y":76},{"c":"b","s":2,"x":952,"y":75},{"c":"b","s":2,"x":955,"y":74},{"c":"b","s":2,"x":958,"y":73},{"c":"b","s":2,"x":961,"y":72},{"c":"b","s":2,"x":964,"y":73},{"c":"b","s":2,"x":967,"y":73},{"c":"b","s":2,"x":970,"y":74},{"c":"b","s":2,"x":973,"y":74},{"c":"b","s":2,"x":976,"y":74},{"c":"b","s":2,"x":979,"y":74},{"c":"b","s":2,"x":982,"y":75},{"c":"b","s":2,"x":985,"y":74},{"c":"b","s":2,"x":988,"y":74},{"c":"b","s":2,"x":991,"y":74},{"c":"b","s":2,"x":994,"y":76},{"c":"b","s":2,"x":997,"y":79},{"c":"b","s":2,"x":999.5,"y":90},{"c":"b","s":2,"x":1001.6,"y":115},{"c":"b","s":2,"x":1003,"y":160},{"c":"b","s":2,"x":1004,"y":177},{"c":"b","s":2,"x":1005.5,"y":160},{"c":"b","s":2,"x":1007.8,"y":119},{"c":"b","s":2,"x":1009.8,"y":126},{"c":"b","s":2,"x":1011.8,"y":134},{"c":"b","s":2,"x":1013.5,"y":115},{"c":"b","s":2,"x":1015.5,"y":92},{"c":"b","s":2,"x":1018,"y":70},{"c":"b","s":2,"x":1020,"y":59},{"c":"b","s":2,"x":1023,"y":57},{"c":"b","s":2,"x":1026.3,"y":56},{"c":"b","s":2,"x":1029,"y":61},{"c":"b","s":2,"x":1032.4,"y":71},{"c":"b","s":2,"x":1034.5,"y":62},{"c":"b","s":2,"x":1037,"y":52},{"c":"b","s":2,"x":1040,"y":50},{"c":"b","s":2,"x":1043,"y":49},{"c":"b","s":2,"x":1046,"y":47},{"c":"b","s":2,"x":1048,"y":46},{"c":"b","s":2,"x":1050.8,"y":44},
{"c":"b","s":3,"x":1220,"y":81},{"c":"b","s":3,"x":1223,"y":86},{"c":"b","s":3,"x":1226,"y":91},{"c":"b","s":3,"x":1229,"y":96},{"c":"b","s":3,"x":1232,"y":100},{"c":"b","s":3,"x":1235,"y":103},{"c":"b","s":3,"x":1238,"y":106},{"c":"b","s":3,"x":1241,"y":107},{"c":"b","s":3,"x":1244,"y":108},{"c":"b","s":3,"x":1247,"y":109},{"c":"b","s":3,"x":1250,"y":109},{"c":"b","s":3,"x":1253,"y":108},{"c":"b","s":3,"x":1256,"y":107},{"c":"b","s":3,"x":1259,"y":105},{"c":"b","s":3,"x":1262,"y":104},{"c":"b","s":3,"x":1265,"y":102},{"c":"b","s":3,"x":1268,"y":100},{"c":"b","s":3,"x":1271,"y":98},{"c":"b","s":3,"x":1274,"y":96},{"c":"b","s":3,"x":1277,"y":94},{"c":"b","s":3,"x":1280,"y":93},{"c":"b","s":3,"x":1283,"y":92},{"c":"b","s":3,"x":1286,"y":91},{"c":"b","s":3,"x":1289,"y":91},{"c":"b","s":3,"x":1292,"y":91},{"c":"b","s":3,"x":1295,"y":91},{"c":"b","s":3,"x":1298,"y":91},{"c":"b","s":3,"x":1301,"y":92},{"c":"b","s":3,"x":1304,"y":92},{"c":"b","s":3,"x":1307,"y":93},{"c":"b","s":3,"x":1310,"y":94},{"c":"b","s":3,"x":1313,"y":95},{"c":"b","s":3,"x":1316,"y":96},{"c":"b","s":3,"x":1319,"y":97},{"c":"b","s":3,"x":1322,"y":99},{"c":"b","s":3,"x":1325,"y":101},{"c":"b","s":3,"x":1328,"y":103},{"c":"b","s":3,"x":1331,"y":105},{"c":"b","s":3,"x":1334,"y":106},{"c":"b","s":3,"x":1337,"y":109},{"c":"b","s":3,"x":1339.8,"y":112},{"c":"b","s":3,"x":1342,"y":109},{"c":"b","s":3,"x":1344,"y":105},{"c":"b","s":3,"x":1346,"y":102},{"c":"b","s":3,"x":1349,"y":99},{"c":"b","s":3,"x":1352,"y":96},{"c":"b","s":3,"x":1355,"y":98},{"c":"b","s":3,"x":1358,"y":101},{"c":"b","s":3,"x":1361,"y":98},{"c":"b","s":3,"x":1364,"y":94},{"c":"b","s":3,"x":1367,"y":90},{"c":"b","s":3,"x":1370,"y":87},{"c":"b","s":3,"x":1373,"y":84},{"c":"b","s":3,"x":1376,"y":82},{"c":"b","s":3,"x":1379,"y":81},
{"c":"b","s":4,"x":1529,"y":86},{"c":"b","s":4,"x":1532,"y":86},{"c":"b","s":4,"x":1535,"y":87},{"c":"b","s":4,"x":1538,"y":88},{"c":"b","s":4,"x":1541,"y":91},{"c":"b","s":4,"x":1543.7,"y":96},{"c":"b","s":4,"x":1546,"y":104},{"c":"b","s":4,"x":1548.3,"y":112},{"c":"b","s":4,"x":1551,"y":113},{"c":"b","s":4,"x":1553,"y":112},{"c":"b","s":4,"x":1555,"y":104},{"c":"b","s":4,"x":1557.4,"y":96},{"c":"b","s":4,"x":1560,"y":87},{"c":"b","s":4,"x":1563.5,"y":79},{"c":"b","s":4,"x":1566,"y":77},{"c":"b","s":4,"x":1569,"y":76},{"c":"b","s":4,"x":1571,"y":77},{"c":"b","s":4,"x":1574,"y":79},{"c":"b","s":4,"x":1577,"y":81},{"c":"b","s":4,"x":1579,"y":80},{"c":"b","s":4,"x":1582,"y":77},{"c":"b","s":4,"x":1585,"y":74},{"c":"b","s":4,"x":1588,"y":71},{"c":"b","s":4,"x":1591,"y":70},{"c":"b","s":4,"x":1594,"y":69},{"c":"b","s":4,"x":1597,"y":71},{"c":"b","s":4,"x":1600,"y":72},{"c":"b","s":4,"x":1603,"y":74},{"c":"b","s":4,"x":1606,"y":75},{"c":"b","s":4,"x":1609,"y":75},{"c":"b","s":4,"x":1612,"y":76},{"c":"b","s":4,"x":1615,"y":78},{"c":"b","s":4,"x":1618,"y":80},{"c":"b","s":4,"x":1621,"y":82},{"c":"b","s":4,"x":1624,"y":84},{"c":"b","s":4,"x":1627,"y":86},{"c":"b","s":4,"x":1630,"y":89},{"c":"b","s":4,"x":1633,"y":92},{"c":"b","s":4,"x":1636,"y":96},{"c":"b","s":4,"x":1639,"y":101},{"c":"b","s":4,"x":1642,"y":105},{"c":"b","s":4,"x":1645,"y":109},{"c":"b","s":4,"x":1648,"y":112},{"c":"b","s":4,"x":1651,"y":115},{"c":"b","s":4,"x":1654,"y":118},{"c":"b","s":4,"x":1657,"y":120},{"c":"b","s":4,"x":1660,"y":122},{"c":"b","s":4,"x":1663,"y":124},{"c":"b","s":4,"x":1666,"y":125},{"c":"b","s":4,"x":1669,"y":126},{"c":"b","s":4,"x":1672,"y":126},{"c":"b","s":4,"x":1675,"y":125},{"c":"b","s":4,"x":1678,"y":122},{"c":"b","s":4,"x":1681,"y":118},{"c":"b","s":4,"x":1684,"y":113},{"c":"b","s":4,"x":1687,"y":108},{"c":"b","s":4,"x":1690,"y":103},{"c":"b","s":4,"x":1693,"y":99},{"c":"b","s":4,"x":1696,"y":95},{"c":"b","s":4,"x":1699,"y":91},{"c":"b","s":4,"x":1702,"y":88},{"c":"b","s":4,"x":1705,"y":86},{"c":"b","s":4,"x":1708,"y":84},{"c":"b","s":4,"x":1711,"y":82},{"c":"b","s":4,"x":1714,"y":81},{"c":"b","s":4,"x":1717,"y":80},{"c":"b","s":4,"x":1719,"y":79},
{"c":"r","s":1,"x":480,"y":62},{"c":"r","s":1,"x":482,"y":68},{"c":"r","s":1,"x":484,"y":64},{"c":"r","s":1,"x":486,"y":66},{"c":"r","s":1,"x":488,"y":60},{"c":"r","s":1,"x":490,"y":63},{"c":"r","s":1,"x":492,"y":57},{"c":"r","s":1,"x":494,"y":59},{"c":"r","s":1,"x":496,"y":54},{"c":"r","s":1,"x":498,"y":52},{"c":"r","s":1,"x":500,"y":55},{"c":"r","s":1,"x":502,"y":57},{"c":"r","s":1,"x":504,"y":53},{"c":"r","s":1,"x":506,"y":51},{"c":"r","s":1,"x":508,"y":49},{"c":"r","s":1,"x":509,"y":58},{"c":"r","s":1,"x":510,"y":47},{"c":"r","s":1,"x":512,"y":52},{"c":"r","s":1,"x":514,"y":52},{"c":"r","s":1,"x":516,"y":48},{"c":"r","s":1,"x":518,"y":46},{"c":"r","s":1,"x":520,"y":44},{"c":"r","s":1,"x":522,"y":47},{"c":"r","s":1,"x":524,"y":43},{"c":"r","s":1,"x":526,"y":44},{"c":"r","s":1,"x":528,"y":46},{"c":"r","s":1,"x":530,"y":42},{"c":"r","s":1,"x":532,"y":41},{"c":"r","s":1,"x":534,"y":44},{"c":"r","s":1,"x":536,"y":42},{"c":"r","s":1,"x":538,"y":45},{"c":"r","s":1,"x":540,"y":44},{"c":"r","s":1,"x":542,"y":41},{"c":"r","s":1,"x":544,"y":43},{"c":"r","s":1,"x":546,"y":40},{"c":"r","s":1,"x":548,"y":44},{"c":"r","s":1,"x":549.5,"y":42},
{"c":"r","s":2,"x":849,"y":42},{"c":"r","s":2,"x":851,"y":45},{"c":"r","s":2,"x":853,"y":42},{"c":"r","s":2,"x":855,"y":41},{"c":"r","s":2,"x":858,"y":36},{"c":"r","s":2,"x":861,"y":30},{"c":"r","s":2,"x":864,"y":26},{"c":"r","s":2,"x":866,"y":30},{"c":"r","s":2,"x":868,"y":35},{"c":"r","s":2,"x":871,"y":39},{"c":"r","s":2,"x":874,"y":48},{"c":"r","s":2,"x":877,"y":56},{"c":"r","s":2,"x":879,"y":52},{"c":"r","s":2,"x":881,"y":47},{"c":"r","s":2,"x":883,"y":44},{"c":"r","s":2,"x":886,"y":40},{"c":"r","s":2,"x":889,"y":37},{"c":"r","s":2,"x":891,"y":36},{"c":"r","s":2,"x":894,"y":38},{"c":"r","s":2,"x":897,"y":41},{"c":"r","s":2,"x":900,"y":44},{"c":"r","s":2,"x":903,"y":42},{"c":"r","s":2,"x":906,"y":40},{"c":"r","s":2,"x":909,"y":37},{"c":"r","s":2,"x":912,"y":34},{"c":"r","s":2,"x":915,"y":31},{"c":"r","s":2,"x":918,"y":32},{"c":"r","s":2,"x":921,"y":33},{"c":"r","s":2,"x":924,"y":34},{"c":"r","s":2,"x":927,"y":35},{"c":"r","s":2,"x":930,"y":36},{"c":"r","s":2,"x":933,"y":37},{"c":"r","s":2,"x":936,"y":37},{"c":"r","s":2,"x":939,"y":36},{"c":"r","s":2,"x":942,"y":34},{"c":"r","s":2,"x":945,"y":33},{"c":"r","s":2,"x":948,"y":32},{"c":"r","s":2,"x":951,"y":33},{"c":"r","s":2,"x":954,"y":33},{"c":"r","s":2,"x":957,"y":34},{"c":"r","s":2,"x":960,"y":34},{"c":"r","s":2,"x":963,"y":34},{"c":"r","s":2,"x":966,"y":34},{"c":"r","s":2,"x":969,"y":35},{"c":"r","s":2,"x":972,"y":35},{"c":"r","s":2,"x":975,"y":35},{"c":"r","s":2,"x":978,"y":36},{"c":"r","s":2,"x":981,"y":36},{"c":"r","s":2,"x":984,"y":37},{"c":"r","s":2,"x":987,"y":38},{"c":"r","s":2,"x":990,"y":39},{"c":"r","s":2,"x":993,"y":40},{"c":"r","s":2,"x":995.4,"y":41},{"c":"r","s":2,"x":998,"y":45},{"c":"r","s":2,"x":1000,"y":52},{"c":"r","s":2,"x":1002,"y":80},{"c":"r","s":2,"x":1003.8,"y":114},{"c":"r","s":2,"x":1005.3,"y":95},{"c":"r","s":2,"x":1006.8,"y":69},{"c":"r","s":2,"x":1008.8,"y":85},{"c":"r","s":2,"x":1010.8,"y":99},{"c":"r","s":2,"x":1013,"y":80},{"c":"r","s":2,"x":1015.5,"y":59},{"c":"r","s":2,"x":1018,"y":42},{"c":"r","s":2,"x":1021.5,"y":32},{"c":"r","s":2,"x":1024,"y":29},{"c":"r","s":2,"x":1027.7,"y":27},{"c":"r","s":2,"x":1030,"y":31},{"c":"r","s":2,"x":1032.4,"y":37},{"c":"r","s":2,"x":1034.5,"y":31},{"c":"r","s":2,"x":1037,"y":27},{"c":"r","s":2,"x":1040,"y":27},{"c":"r","s":2,"x":1043,"y":26},{"c":"r","s":2,"x":1046,"y":24},{"c":"r","s":2,"x":1048,"y":23},{"c":"r","s":2,"x":1050.8,"y":22},
{"c":"r","s":3,"x":1209,"y":32},{"c":"r","s":3,"x":1211,"y":29},{"c":"r","s":3,"x":1213.7,"y":26},{"c":"r","s":3,"x":1216,"y":29},{"c":"r","s":3,"x":1219.7,"y":34},{"c":"r","s":3,"x":1223,"y":39},{"c":"r","s":3,"x":1226,"y":43},{"c":"r","s":3,"x":1229,"y":46},{"c":"r","s":3,"x":1232,"y":50},{"c":"r","s":3,"x":1235,"y":54},{"c":"r","s":3,"x":1238,"y":57},{"c":"r","s":3,"x":1241,"y":56},{"c":"r","s":3,"x":1244,"y":55},{"c":"r","s":3,"x":1247,"y":54},{"c":"r","s":3,"x":1250,"y":53},{"c":"r","s":3,"x":1253,"y":53},{"c":"r","s":3,"x":1256,"y":52},{"c":"r","s":3,"x":1259,"y":50},{"c":"r","s":3,"x":1262,"y":48},{"c":"r","s":3,"x":1265,"y":45},{"c":"r","s":3,"x":1268,"y":42},{"c":"r","s":3,"x":1271,"y":40},{"c":"r","s":3,"x":1274,"y":37},{"c":"r","s":3,"x":1277,"y":35},{"c":"r","s":3,"x":1280,"y":33},{"c":"r","s":3,"x":1283,"y":31},{"c":"r","s":3,"x":1286,"y":30},{"c":"r","s":3,"x":1289,"y":29},{"c":"r","s":3,"x":1292,"y":29},{"c":"r","s":3,"x":1295,"y":30},{"c":"r","s":3,"x":1298,"y":30},{"c":"r","s":3,"x":1301,"y":30},{"c":"r","s":3,"x":1304,"y":31},{"c":"r","s":3,"x":1307,"y":31},{"c":"r","s":3,"x":1310,"y":32},{"c":"r","s":3,"x":1313,"y":32},{"c":"r","s":3,"x":1316,"y":33},{"c":"r","s":3,"x":1319,"y":33},{"c":"r","s":3,"x":1322,"y":34},{"c":"r","s":3,"x":1325,"y":35},{"c":"r","s":3,"x":1328,"y":37},{"c":"r","s":3,"x":1331,"y":39},{"c":"r","s":3,"x":1334,"y":41},{"c":"r","s":3,"x":1337,"y":44},{"c":"r","s":3,"x":1340.7,"y":49},{"c":"r","s":3,"x":1343,"y":45},{"c":"r","s":3,"x":1345,"y":42},{"c":"r","s":3,"x":1347.3,"y":39},{"c":"r","s":3,"x":1350,"y":36},{"c":"r","s":3,"x":1353.4,"y":34},{"c":"r","s":3,"x":1356,"y":35},{"c":"r","s":3,"x":1359.5,"y":37},{"c":"r","s":3,"x":1362,"y":35},{"c":"r","s":3,"x":1365.6,"y":31},{"c":"r","s":3,"x":1368,"y":26},{"c":"r","s":3,"x":1371.7,"y":19},{"c":"r","s":3,"x":1375,"y":16},{"c":"r","s":3,"x":1379,"y":14},
{"c":"r","s":4,"x":1529,"y":41},{"c":"r","s":4,"x":1532,"y":43},{"c":"r","s":4,"x":1535,"y":45},{"c":"r","s":4,"x":1537,"y":47},{"c":"r","s":4,"x":1540,"y":52},{"c":"r","s":4,"x":1543.7,"y":62},{"c":"r","s":4,"x":1546,"y":70},{"c":"r","s":4,"x":1548,"y":76},{"c":"r","s":4,"x":1549.8,"y":79},{"c":"r","s":4,"x":1551.5,"y":77},{"c":"r","s":4,"x":1554.4,"y":69},{"c":"r","s":4,"x":1557,"y":57},{"c":"r","s":4,"x":1559,"y":49},{"c":"r","s":4,"x":1562,"y":45},{"c":"r","s":4,"x":1566.6,"y":41},{"c":"r","s":4,"x":1570,"y":43},{"c":"r","s":4,"x":1573,"y":45},{"c":"r","s":4,"x":1576,"y":47},{"c":"r","s":4,"x":1578.8,"y":46},{"c":"r","s":4,"x":1582,"y":41},{"c":"r","s":4,"x":1585,"y":37},{"c":"r","s":4,"x":1589.4,"y":32},{"c":"r","s":4,"x":1593,"y":35},{"c":"r","s":4,"x":1597,"y":37},{"c":"r","s":4,"x":1600,"y":38},{"c":"r","s":4,"x":1603,"y":40},{"c":"r","s":4,"x":1606,"y":41},{"c":"r","s":4,"x":1609,"y":39},{"c":"r","s":4,"x":1612,"y":40},{"c":"r","s":4,"x":1615.4,"y":39},{"c":"r","s":4,"x":1618,"y":37},{"c":"r","s":4,"x":1621,"y":36},{"c":"r","s":4,"x":1624.6,"y":34},{"c":"r","s":4,"x":1628,"y":32},{"c":"r","s":4,"x":1632,"y":30},{"c":"r","s":4,"x":1636.7,"y":29},{"c":"r","s":4,"x":1640,"y":32},{"c":"r","s":4,"x":1644,"y":35},{"c":"r","s":4,"x":1647.4,"y":39},{"c":"r","s":4,"x":1651,"y":44},{"c":"r","s":4,"x":1655,"y":49},{"c":"r","s":4,"x":1658,"y":52},{"c":"r","s":4,"x":1661,"y":55},{"c":"r","s":4,"x":1664,"y":59},{"c":"r","s":4,"x":1667,"y":62},{"c":"r","s":4,"x":1670,"y":65},{"c":"r","s":4,"x":1673,"y":68},{"c":"r","s":4,"x":1675,"y":69},{"c":"r","s":4,"x":1678,"y":62},{"c":"r","s":4,"x":1680,"y":55},{"c":"r","s":4,"x":1682.5,"y":49},{"c":"r","s":4,"x":1685,"y":43},{"c":"r","s":4,"x":1688,"y":37},{"c":"r","s":4,"x":1691.6,"y":29},{"c":"r","s":4,"x":1695,"y":25},{"c":"r","s":4,"x":1698,"y":23},{"c":"r","s":4,"x":1700.8,"y":21},{"c":"r","s":4,"x":1704,"y":19},{"c":"r","s":4,"x":1707,"y":18},{"c":"r","s":4,"x":1710,"y":17},{"c":"r","s":4,"x":1713,"y":16},{"c":"r","s":4,"x":1716,"y":15},{"c":"r","s":4,"x":1719,"y":14}
],
"ruleA":[{"x":507,"y":208,"y2":75},{"x":932.6,"y":197,"y2":65},{"x":1337.6,"y":200,"y2":44},{"x":1360.7,"y":200,"y2":44}],
"ruleB":[{"x":508,"y":186,"y2":34},{"x":935.4,"y":179,"y2":24},{"x":1340.7,"y":177,"y2":24},{"x":1361.7,"y":177,"y2":24}],
"txtA":[{"t":"S-S","x":508,"y":219},{"t":"N-Cα-C(α-helix)","x":938,"y":217},{"t":"Phe","x":1011.7,"y":269},{"t":"Trp","x":1348,"y":219},{"t":"Amide I","x":1659.6,"y":212}],
"txtB":[{"t":"S-S","x":511,"y":202},{"t":"N-Cα-C(α-helix)","x":938.5,"y":201},{"t":"Phe","x":1006,"y":259},{"t":"Trp","x":1350,"y":201},{"t":"Amide I","x":1671.8,"y":196}],
"labA":[{"t":"(a)","x":518,"y":292}],
"labB":[{"t":"(b)","x":521,"y":297}],
"brkA":[{"x":555,"y":0},{"x":555,"y":320},{"x":1058,"y":0},{"x":1058,"y":320},{"x":1385,"y":0},{"x":1385,"y":320}],
"brkB":[{"x":554,"y":0},{"x":554,"y":320},{"x":1057,"y":0},{"x":1057,"y":320},{"x":1386,"y":0},{"x":1386,"y":320}],
"arrB":[{"x":1633.7,"x2":1705.4,"y":89.7}],
"headB":[{"x":1636,"y":89.7,"d":"L"},{"x":1703,"y":89.7,"d":"R"}]
},
"vconcat":[
{
"width":720,"height":320,
"encoding":{
"x":{"field":"x","type":"quantitative","scale":{"domain":[480,555,843,1058,1205,1385,1525,1720],"range":[0,81,81,313,313,507,507,720],"nice":false,"zero":false},
"axis":{"values":[500,525,850,875,900,925,950,975,1000,1025,1225,1250,1275,1300,1325,1350,1375,1550,1575,1600,1625,1650,1675,1700],"format":"d","labelExpr":"datum.value % 50 == 0 ? datum.label : ''","tickSize":-5,"tickColor":"#333333","tickWidth":1.5,"domain":false,"grid":false,"labelFont":"Liberation Sans","labelFontSize":18,"labelFontWeight":"bold","labelColor":"#000000","labelPadding":10,"labelOverlap":false,"labelFlush":false,"title":"Raman shift / cm⁻¹","titleFont":"Liberation Sans","titleFontSize":24,"titleFontWeight":"bold","titleColor":"#000000","titlePadding":14}},
"y":{"field":"y","type":"quantitative","scale":{"domain":[0,320],"nice":false,"zero":false},
"axis":{"labels":false,"ticks":false,"domain":false,"grid":false,"title":"Intensity / Arbitr.Units","titleFont":"Liberation Sans","titleFontSize":24,"titleFontWeight":"bold","titleColor":"#000000","titlePadding":18}}
},
"layer":[
{"data":{"name":"a"},"mark":{"type":"line","strokeWidth":2.7},
"encoding":{"color":{"field":"c","type":"nominal","scale":{"domain":["k","b","r"],"range":["#000000","#0000ff","#ff0000"]},
"legend":{"orient":"none","legendX":424,"legendY":7,"title":null,"symbolType":"M-4,0H4","symbolSize":430,"symbolStrokeWidth":3,"labelFont":"Liberation Sans","labelFontSize":20,"labelFontWeight":"bold","labelColor":"#000000","labelOffset":37,"rowPadding":1.5,"labelLimit":400,
"labelExpr":"datum.label=='k'?'no AgNPs 0h':datum.label=='b'?'AgNps 17 µg/ml\u00a0 0h':'AgNps 1700 µg/ml\u00a0 0h'"}},
"detail":{"field":"s","type":"nominal"}}},
{"data":{"name":"ruleA"},"mark":{"type":"rule","color":"#ff0000","strokeWidth":2,"strokeDash":[8,5]},"encoding":{"y2":{"field":"y2"}}},
{"data":{"name":"txtA"},"transform":[{"filter":"datum.t != 'N-Cα-C(α-helix)'"}],"mark":{"type":"text","color":"#ff0000","font":"Liberation Sans","fontSize":20,"fontWeight":"bold","baseline":"middle"},"encoding":{"text":{"field":"t"}}},
{"data":{"name":"txtA"},"transform":[{"filter":"datum.t == 'N-Cα-C(α-helix)'"}],"mark":{"type":"text","color":"#ff0000","font":"Liberation Sans","fontSize":18,"fontWeight":"bold","baseline":"middle"},"encoding":{"text":{"field":"t"}}},
{"data":{"name":"labA"},"mark":{"type":"text","color":"#000000","font":"Liberation Serif","fontSize":36,"fontWeight":"bold","baseline":"middle"},"encoding":{"text":{"field":"t"}}},
{"data":{"name":"brkA"},"mark":{"type":"point","shape":"M-1.9,1L-0.15,-1M0.15,1L1.9,-1","size":169,"filled":false,"stroke":"#333333","strokeWidth":1.5,"opacity":1}}
]
},
{
"width":730,"height":320,
"encoding":{
"x":{"field":"x","type":"quantitative","scale":{"domain":[480,554,840,1057,1203,1386,1523,1720],"range":[0,81,81,315,315,515,515,730],"nice":false,"zero":false},
"axis":{"values":[500,525,850,875,900,925,950,975,1000,1025,1225,1250,1275,1300,1325,1350,1375,1550,1575,1600,1625,1650,1675,1700],"format":"d","labelExpr":"datum.value % 50 == 0 ? datum.label : ''","tickSize":-5,"tickColor":"#333333","tickWidth":1.5,"domain":false,"grid":false,"labelFont":"Liberation Sans","labelFontSize":18,"labelFontWeight":"bold","labelColor":"#000000","labelPadding":10,"labelOverlap":false,"labelFlush":false,"title":"Raman shift / cm⁻¹","titleFont":"Liberation Sans","titleFontSize":24,"titleFontWeight":"bold","titleColor":"#000000","titlePadding":14}},
"y":{"field":"y","type":"quantitative","scale":{"domain":[0,320],"nice":false,"zero":false},
"axis":{"labels":false,"ticks":false,"domain":false,"grid":false,"title":"Intensity / Arbitr.Units","titleFont":"Liberation Sans","titleFontSize":24,"titleFontWeight":"bold","titleColor":"#000000","titlePadding":18}}
},
"layer":[
{"data":{"name":"b"},"mark":{"type":"line","strokeWidth":2.7},
"encoding":{"color":{"field":"c","type":"nominal","scale":{"domain":["k","b","r"],"range":["#000000","#0000ff","#ff0000"]},
"legend":{"orient":"none","legendX":417,"legendY":4,"title":null,"symbolType":"M-4,0H4","symbolSize":430,"symbolStrokeWidth":3,"labelFont":"Liberation Sans","labelFontSize":20,"labelFontWeight":"bold","labelColor":"#000000","labelOffset":40,"rowPadding":2,"labelLimit":400,
"labelExpr":"datum.label=='k'?'no AgNPs 216h':datum.label=='b'?'AgNps 17 µg/ml\u00a0 216h':'AgNps 1700 µg/ml\u00a0 216h'"}},
"detail":{"field":"s","type":"nominal"}}},
{"data":{"name":"ruleB"},"mark":{"type":"rule","color":"#ff0000","strokeWidth":2,"strokeDash":[8,5]},"encoding":{"y2":{"field":"y2"}}},
{"data":{"name":"arrB"},"mark":{"type":"rule","color":"#ff0000","strokeWidth":2,"strokeDash":[8,5]},"encoding":{"x2":{"field":"x2"}}},
{"data":{"name":"headB"},"mark":{"type":"point","filled":true,"color":"#ff0000","size":70,"opacity":1},"encoding":{"shape":{"field":"d","type":"nominal","scale":{"domain":["L","R"],"range":["triangle-left","triangle-right"]},"legend":null}}},
{"data":{"name":"txtB"},"transform":[{"filter":"datum.t != 'N-Cα-C(α-helix)'"}],"mark":{"type":"text","color":"#ff0000","font":"Liberation Sans","fontSize":20,"fontWeight":"bold","baseline":"middle"},"encoding":{"text":{"field":"t"}}},
{"data":{"name":"txtB"},"transform":[{"filter":"datum.t == 'N-Cα-C(α-helix)'"}],"mark":{"type":"text","color":"#ff0000","font":"Liberation Sans","fontSize":18,"fontWeight":"bold","baseline":"middle"},"encoding":{"text":{"field":"t"}}},
{"data":{"name":"labB"},"mark":{"type":"text","color":"#000000","font":"Liberation Serif","fontSize":36,"fontWeight":"bold","baseline":"middle"},"encoding":{"text":{"field":"t"}}},
{"data":{"name":"brkB"},"mark":{"type":"point","shape":"M-1.9,1L-0.15,-1M0.15,1L1.9,-1","size":169,"filled":false,"stroke":"#333333","strokeWidth":1.5,"opacity":1}}
]
}
]
}
